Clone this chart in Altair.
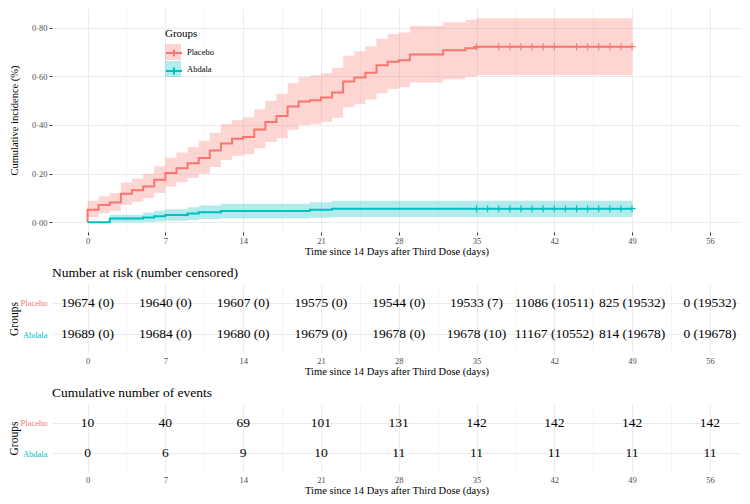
import altair as alt
import pandas as pd

FONT = "Liberation Serif"
groups = ["Placebo", "Abdala"]
colors = ["#F8766D", "#00BFC4"]

# ---- Cumulative incidence curves (%) ----
pl_time = [0, 0, 1, 2, 3, 4, 5, 6, 7, 8, 9, 10, 11, 12, 13, 14, 15, 16, 17, 18, 19,
           20, 21, 22, 23, 24, 25, 26, 27, 28, 29, 32, 34, 35, 49]
pl_est = [0.0, 0.051, 0.071, 0.081, 0.117, 0.132, 0.147, 0.175, 0.203, 0.222, 0.243,
          0.264, 0.295, 0.324, 0.343, 0.351, 0.381, 0.412, 0.437, 0.476, 0.497,
          0.502, 0.513, 0.534, 0.579, 0.595, 0.615, 0.646, 0.660, 0.666, 0.690,
          0.707, 0.715, 0.722, 0.722]
pl_upper = [0.0, 0.088, 0.107, 0.120, 0.163, 0.180, 0.200, 0.230, 0.265, 0.287, 0.310,
            0.335, 0.368, 0.403, 0.421, 0.432, 0.465, 0.500, 0.528, 0.572, 0.596,
            0.603, 0.613, 0.635, 0.685, 0.703, 0.724, 0.755, 0.774, 0.780, 0.807,
            0.822, 0.833, 0.839, 0.839]
pl_lower = [0.0, 0.021, 0.037, 0.046, 0.072, 0.084, 0.100, 0.120, 0.147, 0.165, 0.182,
            0.199, 0.227, 0.256, 0.273, 0.280, 0.304, 0.330, 0.345, 0.380, 0.400,
            0.403, 0.413, 0.430, 0.473, 0.486, 0.505, 0.531, 0.548, 0.555, 0.575,
            0.588, 0.598, 0.604, 0.604]

ab_time = [0, 2, 5, 6, 7, 9, 10, 12, 20, 22, 49]
ab_est = [0.0, 0.015, 0.020, 0.025, 0.030, 0.036, 0.041, 0.046, 0.051, 0.056, 0.056]
ab_upper = [0.0, 0.031, 0.040, 0.047, 0.054, 0.062, 0.069, 0.076, 0.082, 0.089, 0.089]
ab_lower = [0.0, 0.000, 0.001, 0.003, 0.006, 0.009, 0.013, 0.016, 0.019, 0.022, 0.022]

# censoring marks (days)
pl_cens = [35, 37, 38, 39, 40, 41, 42, 44, 45, 46, 47, 48, 49]
ab_cens = [35, 36, 37, 38, 39, 40, 41, 42, 43, 44, 45, 46, 47, 48, 49]

# ---- tables ----
table_times = [0, 7, 14, 21, 28, 35, 42, 49, 56]
pl_risk = [19674, 19640, 19607, 19575, 19544, 19533, 11086, 825, 0]
pl_censored = [0, 0, 0, 0, 0, 7, 10511, 19532, 19532]
ab_risk = [19689, 19684, 19680, 19679, 19678, 19678, 11167, 814, 0]
ab_censored = [0, 0, 0, 0, 0, 10, 10552, 19678, 19678]
pl_events = [10, 40, 69, 101, 131, 142, 142, 142, 142]
ab_events = [0, 6, 9, 10, 11, 11, 11, 11, 11]

grid_x = [0, 3.5, 7, 10.5, 14, 17.5, 21, 24.5, 28, 31.5, 35, 38.5, 42, 45.5, 49, 52.5, 56]
grid_y = [0, 0.1, 0.2, 0.3, 0.4, 0.5, 0.6, 0.7, 0.8]

x_title = "Time since 14 Days after Third Dose (days)"

# ---- frames ----
curves = pd.concat([
    pd.DataFrame({"time": pl_time, "est": pl_est, "upper": pl_upper, "lower": pl_lower,
                  "group": "Placebo"}),
    pd.DataFrame({"time": ab_time, "est": ab_est, "upper": ab_upper, "lower": ab_lower,
                  "group": "Abdala"}),
], ignore_index=True)
curves["ord"] = range(len(curves))
curves["groupf"] = curves["group"]

cens_rows = []
for g, ts in (("Placebo", pl_cens), ("Abdala", ab_cens)):
    sub = curves[curves["group"] == g].sort_values(["time", "ord"])
    left = pd.DataFrame({"time": ts}).astype({"time": float})
    m = pd.merge_asof(left, sub[["time", "est"]].astype({"time": float}), on="time")
    m["group"] = g
    cens_rows.append(m)
cens = pd.concat(cens_rows, ignore_index=True)

risk = pd.concat([
    pd.DataFrame({"time": table_times, "group": "Placebo",
                  "label": [f"{n} ({c})" for n, c in zip(pl_risk, pl_censored)]}),
    pd.DataFrame({"time": table_times, "group": "Abdala",
                  "label": [f"{n} ({c})" for n, c in zip(ab_risk, ab_censored)]}),
], ignore_index=True)
events = pd.concat([
    pd.DataFrame({"time": table_times, "group": "Placebo", "label": [str(v) for v in pl_events]}),
    pd.DataFrame({"time": table_times, "group": "Abdala", "label": [str(v) for v in ab_events]}),
], ignore_index=True)

# ---- scales / axes ----
W = 689
x_scale = alt.Scale(domain=[-3.2, 58.8], nice=False, zero=False)
y_scale = alt.Scale(domain=[-0.040, 0.881], nice=False, zero=False)
MAJ_X = "datum.value % 7 === 0"
MAJ_Y = "round(datum.value * 10) % 2 === 0"
GRID = "#EBEBEB"


def x_axis(ticks, label_pad, title_pad):
    kw = dict(values=grid_x, title=x_title,
              labelExpr=f"{MAJ_X} ? format(datum.value, 'd') : ''",
              grid=True, gridColor=GRID,
              gridWidth=alt.condition(MAJ_X, alt.value(1.0), alt.value(0.5)),
              domain=False, labelFlush=False, labelOverlap=False,
              labelFontSize=8.5, labelColor="#4D4D4D", labelPadding=label_pad,
              titleFontSize=10.5, titlePadding=title_pad, titleFontWeight="normal",
              labelFont=FONT, titleFont=FONT, titleColor="black")
    if ticks:
        kw.update(ticks=True, tickSize=3, tickColor="#333333",
                  tickOpacity=alt.condition(MAJ_X, alt.value(1), alt.value(0)))
    else:
        kw.update(ticks=False)
    return alt.Axis(**kw)


y_axis_main = alt.Axis(values=grid_y, title="Cumulative incidence (%)",
                       labelExpr=f"{MAJ_Y} ? replace(format(datum.value, '.2f'), '.', '·') : ''",
                       grid=True, gridColor=GRID,
                       gridWidth=alt.condition(MAJ_Y, alt.value(1.0), alt.value(0.5)),
                       ticks=True, tickSize=3, tickColor="#333333",
                       tickOpacity=alt.condition(MAJ_Y, alt.value(1), alt.value(0)),
                       domain=False, labelOverlap=False, labelFontSize=8.5,
                       labelColor="#4D4D4D", labelPadding=2, minExtent=20, maxExtent=20,
                       titleFontSize=10.5, titlePadding=13, titleFontWeight="normal",
                       labelFont=FONT, titleFont=FONT, titleColor="black")

fill_legend = alt.Legend(title="Groups", orient="none", legendX=113, legendY=20,
                         symbolType="square", symbolSize=256, symbolOpacity=0.3,
                         symbolStrokeWidth=0, labelFontSize=8.5, titleFontSize=11,
                         titleFontWeight="normal", labelOffset=6, rowPadding=1,
                         titlePadding=5, padding=0, labelFont=FONT, titleFont=FONT,
                         labelColor="black", titleColor="black")
stroke_legend = alt.Legend(title=None, orient="none", legendX=113, legendY=36,
                           symbolType="M-1,0H1M0,-0.45V0.45", symbolSize=256,
                           symbolOpacity=1, symbolStrokeWidth=2,
                           symbolFillColor="transparent",
                           labelFontSize=8.5, labelOffset=6, rowPadding=1, padding=0,
                           labelExpr="''", labelFont=FONT)

fill_enc = alt.Fill("groupf:N", sort=groups, scale=alt.Scale(range=colors), legend=fill_legend)
stroke_enc = alt.Stroke("group:N", sort=groups, scale=alt.Scale(range=colors), legend=stroke_legend)

band = alt.Chart(curves).mark_area(interpolate="step-after", fillOpacity=0.3).encode(
    x=alt.X("time:Q", scale=x_scale, axis=x_axis(True, 1, 1.5)),
    y=alt.Y("lower:Q", scale=y_scale, axis=y_axis_main),
    y2=alt.Y2("upper:Q"),
    fill=fill_enc,
)
line = alt.Chart(curves).mark_line(interpolate="step-after", strokeWidth=2).encode(
    x=alt.X("time:Q", scale=x_scale),
    y=alt.Y("est:Q", scale=y_scale),
    stroke=stroke_enc,
    order="ord:Q",
)
ticks = alt.Chart(cens).mark_point(shape="M0,-1V1M-1,0H1", filled=False, size=49,
                                   strokeWidth=1.1, opacity=1).encode(
    x=alt.X("time:Q", scale=x_scale),
    y=alt.Y("est:Q", scale=y_scale),
    stroke=stroke_enc,
)
main = alt.layer(band, line, ticks).properties(width=W, height=224)


def table(df, title, height):
    y_axis = alt.Axis(title="Groups", ticks=False, domain=False, grid=True, gridColor=GRID,
                      gridWidth=1.0,
                      labelColor=alt.condition("datum.value === 'Placebo'",
                                               alt.value(colors[0]), alt.value(colors[1])),
                      labelFontSize=8.5, labelPadding=5, minExtent=32, maxExtent=32,
                      titleFontSize=11.5, titlePadding=1, titleFontWeight="normal",
                      labelFont=FONT, titleFont=FONT, titleColor="black")
    yenc = alt.Y("group:N", scale=alt.Scale(type="point", domain=groups, padding=0.6),
                 axis=y_axis)
    txt = alt.Chart(df).mark_text(font=FONT, fontSize=13.5, color="black",
                                  baseline="middle", align="center").encode(
        x=alt.X("time:Q", scale=x_scale, axis=x_axis(False, 3, 1.5)),
        y=yenc,
        text="label:N",
    )
    return txt.properties(
        width=W, height=height,
        title=alt.TitleParams(title, anchor="start", fontSize=13.5, font=FONT,
                              fontWeight="normal", offset=5, frame="group", color="black"))


t1 = table(risk, "Number at risk (number censored)", 69)
t2 = table(events, "Cumulative number of events", 68)

chart = alt.vconcat(main, t1, t2, spacing=8).configure(
    background="white", padding=0, font=FONT
).configure_view(stroke=None).configure_axis(labelFont=FONT, titleFont=FONT).configure_text(
    font=FONT
).configure_title(font=FONT)

chart.save("out.html", embed_options={"renderer": "svg", "actions": False})
